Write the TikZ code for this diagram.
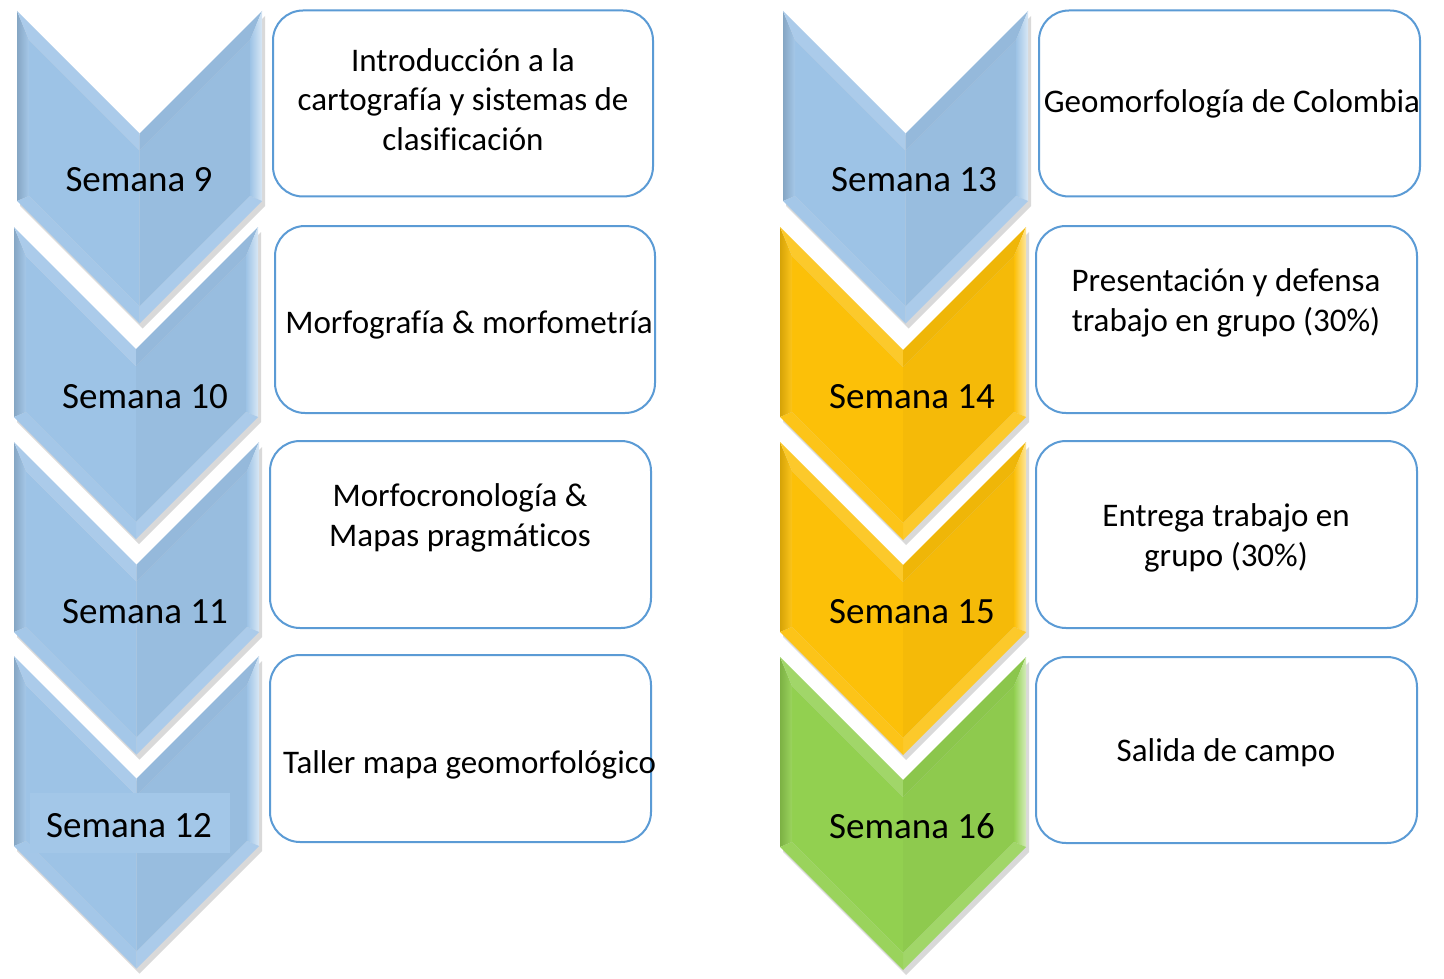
\documentclass[tikz,border=0pt]{standalone}
\usepackage{fontspec}
\setmainfont{Carlito}[Ligatures=NoCommon]
\usetikzlibrary{calc}
\definecolor{bluebase}{RGB}{157,195,230}
\definecolor{yelbase}{RGB}{252,192,8}
\definecolor{grnbase}{RGB}{146,208,80}
\definecolor{boxline}{RGB}{91,155,213}
\tikzset{
  wkbox/.style={draw=boxline, line width=2pt, fill=white, rounded corners=30pt, inner sep=0pt},
  wklabel/.style={font=\fontsize{37}{44}\selectfont, anchor=base, inner sep=0pt, text=black},
  boxtext/.style={font=\fontsize{33}{40}\selectfont, align=center, anchor=base, inner sep=0pt, text=black},
}
\newcommand\mychev[4]{%
  \pgfmathsetmacro\cL{#1}\pgfmathsetmacro\cR{#2}\pgfmathsetmacro\cT{#3}%
  \pgfmathsetmacro\cH{(\cR-\cL)/2}%
  \pgfmathsetmacro\cM{\cL+\cH}%
  \pgfmathsetmacro\cN{\cT+\cH}%
  \pgfmathsetmacro\cS{\cT+190}%
  \pgfmathsetmacro\cP{\cS+\cH}%
  \pgfmathsetmacro\iL{\cL+12}\pgfmathsetmacro\iR{\cR-12}%
  \pgfmathsetmacro\iT{\cT+29}\pgfmathsetmacro\iN{\cN+17}%
  \pgfmathsetmacro\iS{\cS-5}\pgfmathsetmacro\iP{\cP-17}%
  % inner halves
  \fill[#4] (\iL,\iT) -- (\cM,\iN) -- (\cM,\iP) -- (\iL,\iS) -- cycle;
  \fill[#4!97!black] (\cM,\iN) -- (\iR,\iT) -- (\iR,\iS) -- (\cM,\iP) -- cycle;
  % facets
  \shade[left color=#4!85!black, right color=#4!92!white] (\cL,\cT) -- (\cL,\cS) -- (\iL,\iS) -- (\iL,\iT) -- cycle;
  \fill[#4!86!white] (\cL,\cT) -- (\cM,\cN) -- (\cM,\iN) -- (\iL,\iT) -- cycle;
  \fill[#4!95!black] (\cM,\cN) -- (\cR,\cT) -- (\iR,\iT) -- (\cM,\iN) -- cycle;
  \shade[left color=#4, right color=#4!40!white] (\cR,\cT) -- (\cR,\cS) -- (\iR,\iS) -- (\iR,\iT) -- cycle;
  \fill[#4!86!white] (\cR,\cS) -- (\cM,\cP) -- (\cM,\iP) -- (\iR,\iS) -- cycle;
  \fill[#4!93!white] (\cL,\cS) -- (\cM,\cP) -- (\cM,\iP) -- (\iL,\iS) -- cycle;
}
\newcommand\mychevshadow[3]{%
  \pgfmathsetmacro\cL{#1}\pgfmathsetmacro\cR{#2}\pgfmathsetmacro\cT{#3}%
  \pgfmathsetmacro\cH{(\cR-\cL)/2}%
  \pgfmathsetmacro\cM{\cL+\cH}%
  \pgfmathsetmacro\cN{\cT+\cH}%
  \pgfmathsetmacro\cS{\cT+190}%
  \pgfmathsetmacro\cP{\cS+\cH}%
  \fill[black, opacity=0.15, shift={(3pt,-5pt)}] (\cL,\cT) -- (\cM,\cN) -- (\cR,\cT) -- (\cR,\cS) -- (\cM,\cP) -- (\cL,\cS) -- cycle;
}
\begin{document}
\begin{tikzpicture}[x=1pt, y=-1pt]
\useasboundingbox (0,0) rectangle (1444,979);
\fill[white] (0,0) rectangle (1444,979);
% shadows
\mychevshadow{17}{262}{11}
\mychevshadow{14}{258}{227}
\mychevshadow{14}{259}{442}
\mychevshadow{14}{259}{656}
\mychevshadow{783}{1028}{11}
\mychevshadow{780}{1026}{227}
\mychevshadow{780}{1026}{442}
\mychevshadow{780}{1026}{657}
% chevrons
\mychev{17}{262}{11}{bluebase}
\mychev{14}{258}{227}{bluebase}
\mychev{14}{259}{442}{bluebase}
\mychev{14}{259}{656}{bluebase}
\mychev{783}{1028}{11}{bluebase}
\mychev{780}{1026}{227}{yelbase}
\mychev{780}{1026}{442}{yelbase}
\mychev{780}{1026}{657}{grnbase}
\fill[bluebase!94!white] (30,793) rectangle (230,853);
% week labels
\node[wklabel] (s9)  at (139,192) {Semana 9};
\node[wklabel] (s10) at (145,408) {Semana 10};
\node[wklabel] (s11) at (145,623) {Semana 11};
\node[wklabel] (s12) at (129,837) {Semana 12};
\node[wklabel] (s13) at (914,192) {Semana 13};
\node[wklabel] (s14) at (912,408) {Semana 14};
\node[wklabel] (s15) at (912,623) {Semana 15};
\node[wklabel] (s16) at (912,838) {Semana 16};
% boxes
\node[wkbox, minimum width=380pt, minimum height=186pt] (b1) at (463,103.5) {};
\node[wkbox, minimum width=380pt, minimum height=187pt] (b2) at (465,319.5) {};
\node[wkbox, minimum width=381pt, minimum height=187pt] (b3) at (460.5,534.5) {};
\node[wkbox, minimum width=381pt, minimum height=187pt] (b4) at (460.5,748.5) {};
\node[wkbox, minimum width=381pt, minimum height=186pt] (b5) at (1229.5,103.5) {};
\node[wkbox, minimum width=381pt, minimum height=187pt] (b6) at (1226.5,319.5) {};
\node[wkbox, minimum width=381pt, minimum height=187pt] (b7) at (1226.5,534.5) {};
\node[wkbox, minimum width=381pt, minimum height=186pt] (b8) at (1226.5,750) {};
% box texts (base = last line's baseline)
\node[boxtext] (t1) at (463,151) {Introducción a la\\cartografía y sistemas de\\clasificación};
\node[boxtext] (t2) at (469,333) {Morfografía \& morfometría};
\node[boxtext] (t3) at (460,546) {Morfocronología \&\\Mapas pragmáticos};
\node[boxtext] (t4) at (469.5,773) {Taller mapa geomorfológico};
\node[boxtext] (t5) at (1232,113) {Geomorfología de Colombia};
\node[boxtext] (t6) at (1226,331) {Presentación y defensa\\trabajo en grupo (30\%)};
\node[boxtext] (t7) at (1226,566) {Entrega trabajo en\\grupo (30\%)};
\node[boxtext] (t8) at (1226,761) {Salida de campo};
\end{tikzpicture}
\end{document}
